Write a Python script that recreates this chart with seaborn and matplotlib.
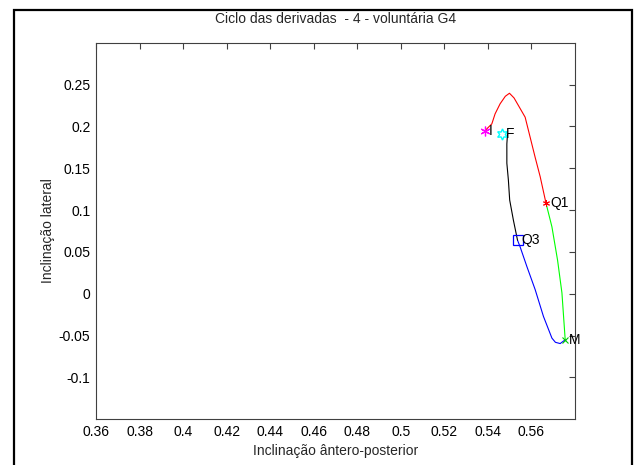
import matplotlib
matplotlib.use("Agg")
import matplotlib.pyplot as plt
import seaborn as sns
import pandas as pd
from matplotlib.patches import Rectangle

sns.set_style("white")
plt.rcParams['font.family'] = ["Liberation Sans", "DejaVu Sans"]

# --- data ---
red_x = [0.5387, 0.5418, 0.5433, 0.5456, 0.5480, 0.5499, 0.5520, 0.5540, 0.5571, 0.5594, 0.5617, 0.5640, 0.5667]
red_y = [0.195, 0.203, 0.215, 0.227, 0.236, 0.2396, 0.234, 0.225, 0.211, 0.187, 0.163, 0.140, 0.108]
green_x = [0.5667, 0.5694, 0.5720, 0.5740, 0.5755]
green_y = [0.108, 0.080, 0.040, 0.001, -0.055]
blue_x = [0.5755, 0.5732, 0.5710, 0.5694, 0.5655, 0.5617, 0.5579, 0.5548, 0.5536]
blue_y = [-0.055, -0.0595, -0.058, -0.053, -0.027, 0.005, 0.0325, 0.056, 0.064]
black_x = [0.5536, 0.5517, 0.5500, 0.5494, 0.5487, 0.5487, 0.5490]
black_y = [0.064, 0.088, 0.112, 0.136, 0.156, 0.179, 0.191]

point_names = ["I", "F", "Q1", "Q3", "M"]
point_x = [0.5387, 0.5465, 0.5667, 0.5536, 0.5755]
point_y = [0.195, 0.191, 0.108, 0.064, -0.055]

xticks = [0.36, 0.38, 0.40, 0.42, 0.44, 0.46, 0.48, 0.50, 0.52, 0.54, 0.56]
xtick_labels = ["0.36", "0.38", "0.4", "0.42", "0.44", "0.46", "0.48", "0.5", "0.52", "0.54", "0.56"]
yticks = [-0.1, -0.05, 0, 0.05, 0.1, 0.15, 0.2, 0.25]
ytick_labels = ["-0.1", "-0.05", "0", "0.05", "0.1", "0.15", "0.2", "0.25"]

title = "Ciclo das derivadas  - 4 - voluntária G4"
xlabel = "Inclinação ântero-posterior"
ylabel = "Inclinação lateral"

fig = plt.figure(figsize=(6.36, 4.65), dpi=100)
ax = fig.add_axes([96/636, (465-419.3)/465, (575-96)/636, (419.3-42.7)/465])

segs = [(red_x, red_y, "#ff0000"), (green_x, green_y, "#00ff00"),
        (blue_x, blue_y, "#0000ff"), (black_x, black_y, "#000000")]
for xs, ys, c in segs:
    df = pd.DataFrame({"x": xs, "y": ys})
    sns.lineplot(data=df, x="x", y="y", sort=False, estimator=None, color=c, lw=0.8, ax=ax)

asterisk = (6, 2, 0)
styles = {
    "I": dict(marker=asterisk, color="#ff00ff", ms=7, mew=0.9),
    "F": dict(marker=(6, 1, 0), color="#00ffff", ms=8, mew=1.0, mfc="none"),
    "Q1": dict(marker=asterisk, color="#ff0000", ms=5, mew=0.7),
    "Q3": dict(marker="s", color="#0000ff", ms=7, mew=0.9, mfc="none"),
    "M": dict(marker="x", color="#00cc00", ms=4, mew=0.8),
}
for n, px, py in zip(point_names, point_x, point_y):
    ax.plot([px], [py], ls="none", **styles[n])
    ax.text(px + 0.0018, py, n, fontsize=10, va="center", ha="left", color="#000000")

ax.set_xlim(0.36, 0.58)
ax.set_ylim(-0.15, 0.30)
ax.set_xticks(xticks)
ax.set_xticklabels(xtick_labels)
ax.set_yticks(yticks)
ax.set_yticklabels(ytick_labels)
ax.tick_params(direction="in", length=4, width=0.8, top=True, right=True,
               labelsize=10, colors="#404040", labelcolor="#000000", pad=4)
for s in ax.spines.values():
    s.set_visible(True)
    s.set_color("#404040")
    s.set_linewidth(0.8)
ax.set_xlabel(xlabel, fontsize=10, labelpad=4)
ax.set_ylabel(ylabel, fontsize=10, labelpad=3)
ax.set_title(title, fontsize=10, pad=14)

fig.patches.append(Rectangle((14/636, -0.1), (632-14)/636, (465-10)/465 + 0.1,
                             transform=fig.transFigure, fill=False, ec="black", lw=1.6))

fig.savefig("out.png", dpi=100)
